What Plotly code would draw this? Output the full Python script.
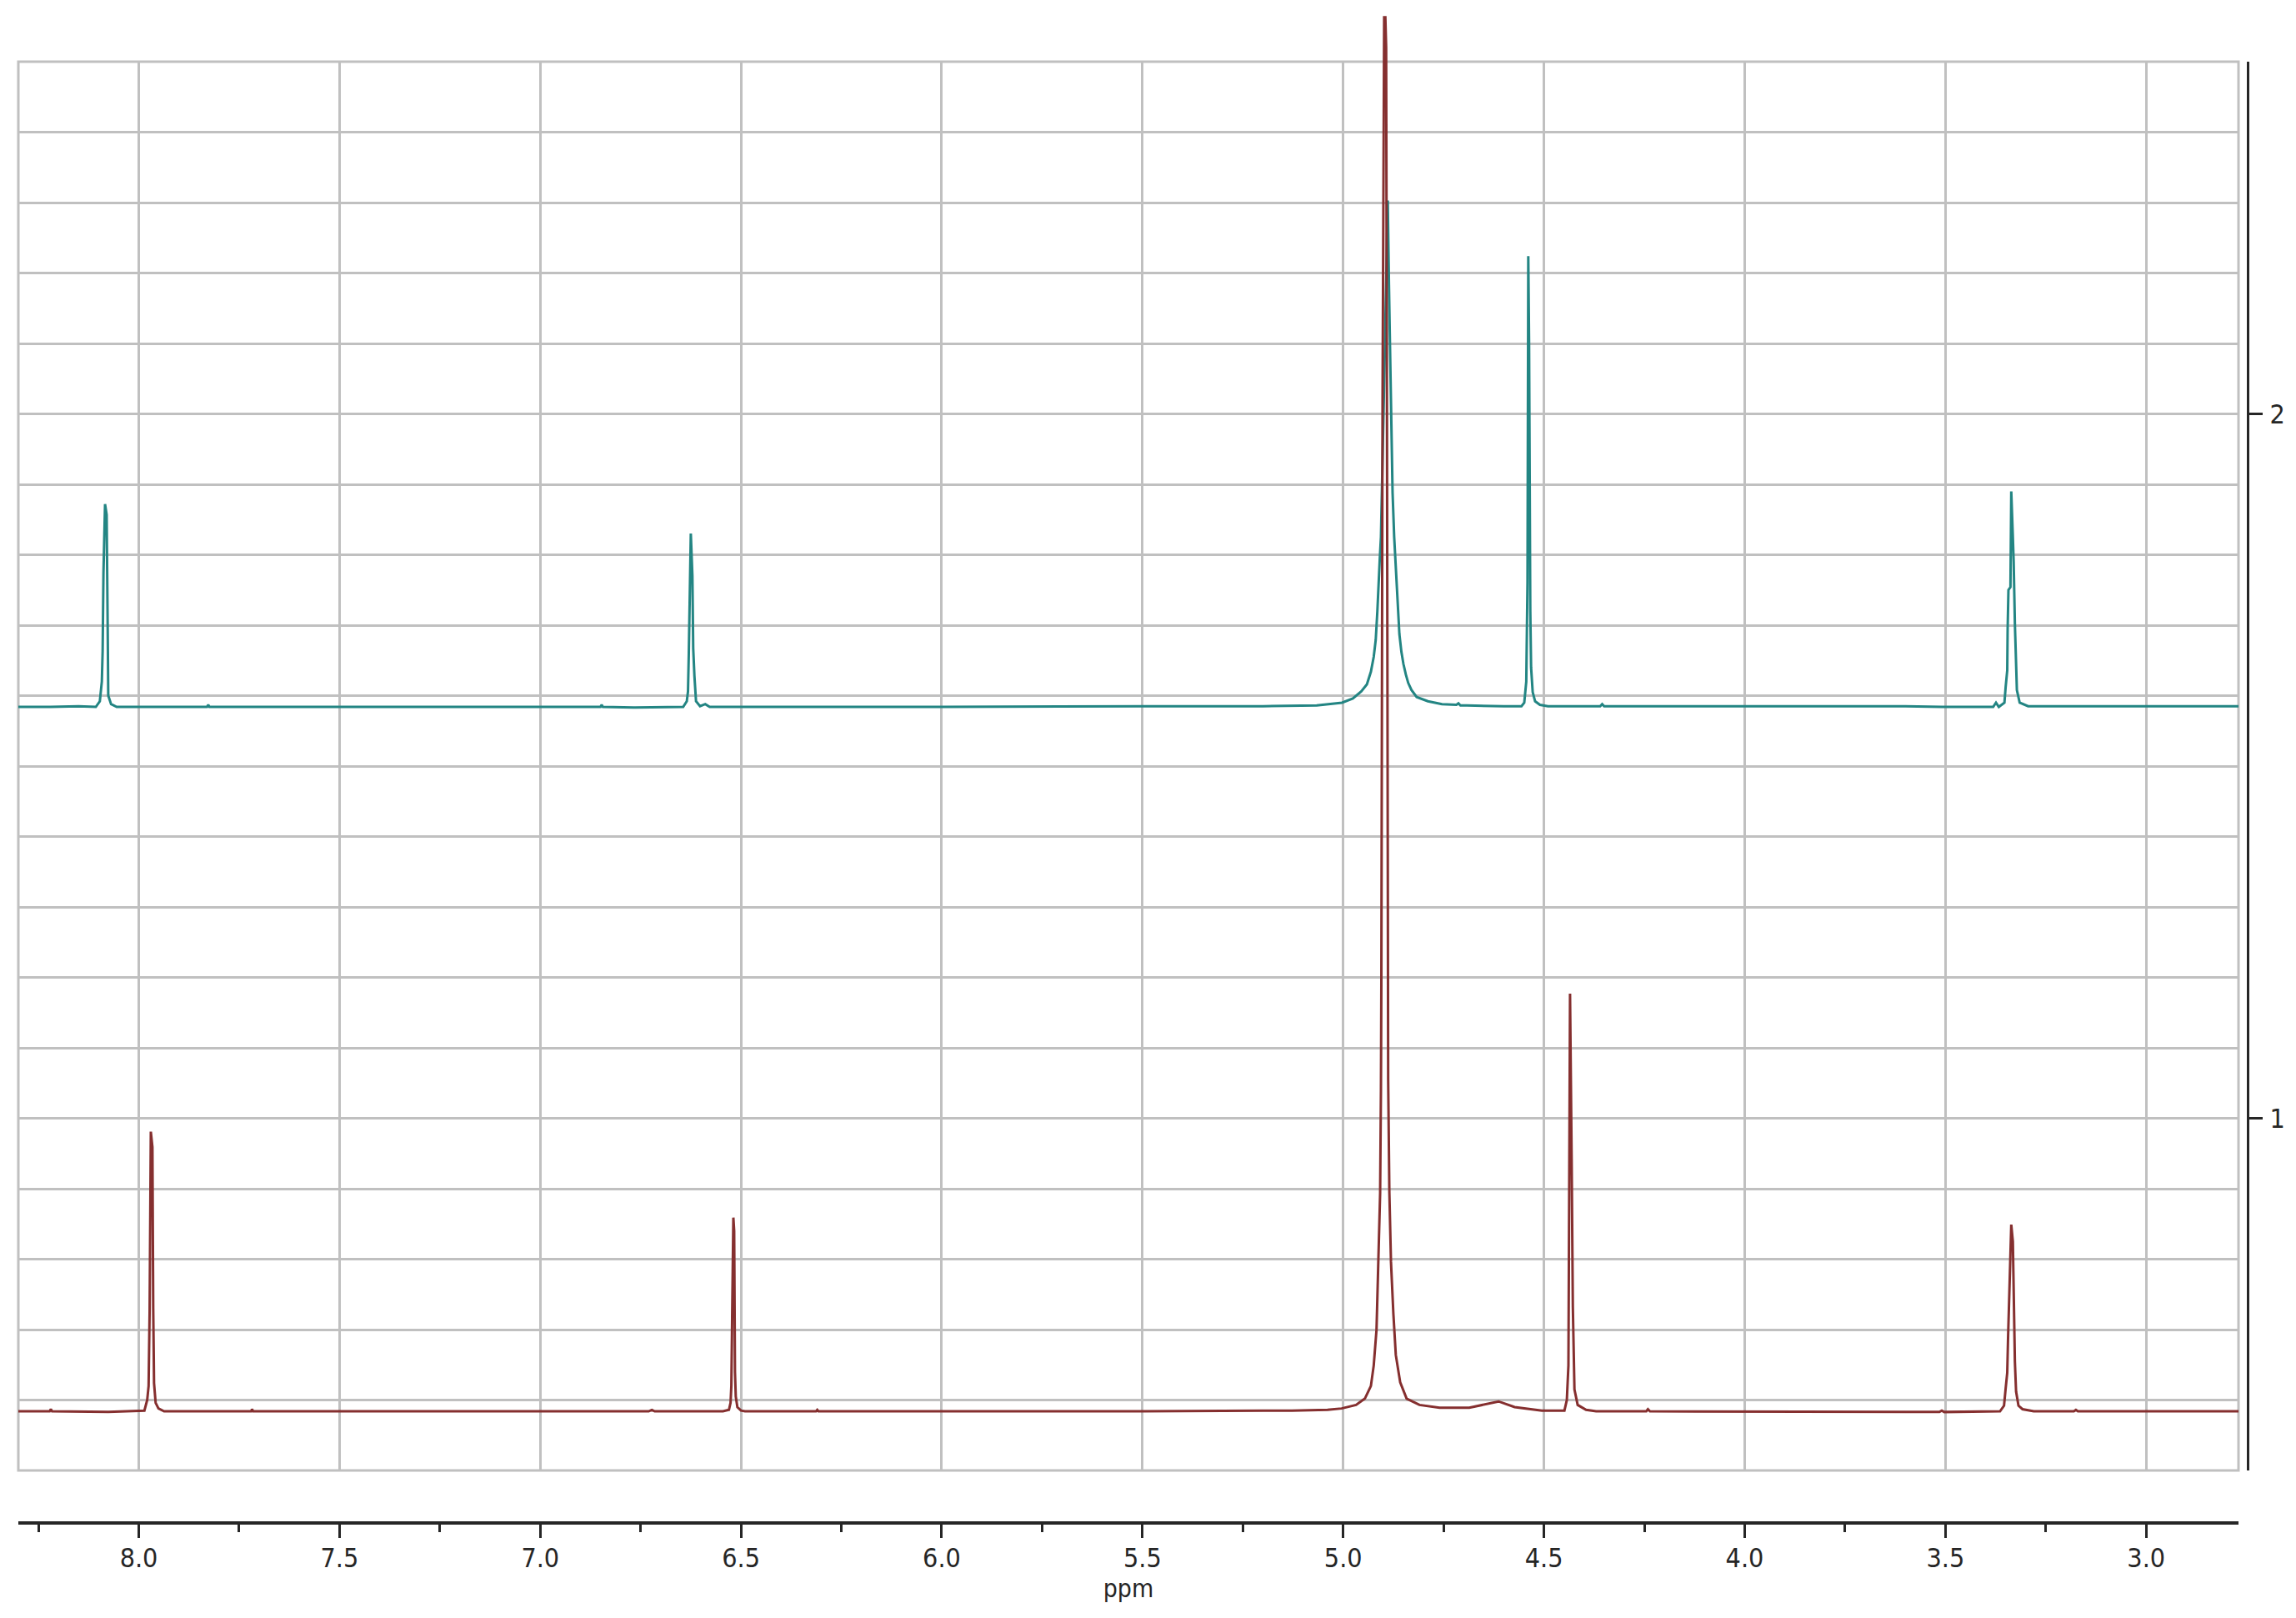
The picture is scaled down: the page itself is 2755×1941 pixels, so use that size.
import plotly.graph_objects as go

# upper spectrum (teal)
teal_ppm = [8.300, 8.220, 8.150, 8.107, 8.097, 8.092, 8.090, 8.088, 8.084, 8.080, 8.078, 8.077,
            8.076, 8.069, 8.055, 7.830, 7.827, 7.824, 7.200, 6.850, 6.847, 6.844, 6.768, 6.644,
            6.635, 6.632, 6.630, 6.627, 6.625, 6.621, 6.619, 6.616, 6.612, 6.602, 6.589, 6.578,
            6.000, 5.500, 5.200, 5.066, 5.003, 4.976, 4.955, 4.941, 4.931, 4.924, 4.919, 4.915,
            4.912, 4.909, 4.906, 4.904, 4.903, 4.896, 4.889, 4.887, 4.886, 4.884, 4.882, 4.880,
            4.877, 4.873, 4.868, 4.864, 4.860, 4.855, 4.850, 4.844, 4.838, 4.830, 4.817, 4.789,
            4.754, 4.718, 4.713, 4.708, 4.692, 4.600, 4.556, 4.549, 4.544, 4.541, 4.539, 4.537,
            4.536, 4.534, 4.532, 4.528, 4.522, 4.510, 4.490, 4.360, 4.355, 4.350, 3.600, 3.509,
            3.381, 3.374, 3.367, 3.353, 3.350, 3.346, 3.345, 3.343, 3.338, 3.336, 3.332, 3.330,
            3.327, 3.325, 3.322, 3.315, 3.294, 3.000, 2.770]
teal_int = [1.584, 1.584, 1.585, 1.584, 1.592, 1.620, 1.663, 1.774, 1.872, 1.857, 1.730, 1.663,
            1.600, 1.588, 1.584, 1.584, 1.587, 1.584, 1.584, 1.584, 1.587, 1.584, 1.583, 1.584,
            1.592, 1.606, 1.660, 1.770, 1.830, 1.770, 1.667, 1.628, 1.592, 1.585, 1.588, 1.584,
            1.584, 1.585, 1.585, 1.586, 1.590, 1.596, 1.606, 1.616, 1.634, 1.655, 1.679, 1.719,
            1.766, 1.793, 1.825, 1.876, 1.908, 2.100, 2.303, 2.247, 2.183, 2.115, 2.038, 1.959,
            1.888, 1.825, 1.766, 1.719, 1.687, 1.662, 1.645, 1.630, 1.618, 1.608, 1.598, 1.592,
            1.588, 1.587, 1.589, 1.586, 1.586, 1.585, 1.585, 1.590, 1.620, 1.760, 2.224, 2.100,
            1.900, 1.720, 1.640, 1.605, 1.592, 1.587, 1.585, 1.585, 1.588, 1.585, 1.585, 1.584,
            1.584, 1.590, 1.584, 1.590, 1.612, 1.636, 1.695, 1.750, 1.754, 1.890, 1.825, 1.790,
            1.703, 1.655, 1.608, 1.590, 1.585, 1.585, 1.585]

# lower spectrum (maroon)
maroon_ppm = [8.300, 8.222, 8.219, 8.216, 8.076, 8.007, 7.986, 7.979, 7.9755, 7.973, 7.972, 7.970,
              7.966, 7.965, 7.964, 7.962, 7.958, 7.951, 7.937, 7.720, 7.718, 7.715, 6.730, 6.722,
              6.715, 6.545, 6.530, 6.526, 6.524, 6.522, 6.521, 6.519, 6.517, 6.516, 6.515, 6.513,
              6.509, 6.500, 6.490, 6.313, 6.310, 6.307, 5.500, 5.200, 5.128, 5.039, 5.004, 4.968,
              4.946, 4.931, 4.924, 4.917, 4.912, 4.908, 4.906, 4.905, 4.902, 4.898, 4.895, 4.893,
              4.891, 4.889, 4.888, 4.885, 4.881, 4.875, 4.869, 4.858, 4.842, 4.810, 4.760, 4.686,
              4.613, 4.573, 4.505, 4.449, 4.443, 4.439, 4.437, 4.435, 4.431, 4.428, 4.424, 4.416,
              4.395, 4.370, 4.245, 4.241, 4.236, 3.571, 3.515, 3.509, 3.503, 3.364, 3.354, 3.350,
              3.346, 3.344, 3.341, 3.339, 3.336, 3.332, 3.330, 3.329, 3.327, 3.324, 3.318, 3.308,
              3.280, 3.180, 3.175, 3.170, 2.770]
maroon_int = [0.584, 0.584, 0.587, 0.584, 0.583, 0.584, 0.585, 0.600, 0.620, 0.726, 0.841, 0.981,
              0.959, 0.785, 0.730, 0.624, 0.596, 0.588, 0.584, 0.584, 0.587, 0.584, 0.584, 0.586,
              0.584, 0.584, 0.586, 0.596, 0.620, 0.720, 0.800, 0.859, 0.840, 0.720, 0.640, 0.605,
              0.590, 0.585, 0.584, 0.584, 0.586, 0.584, 0.584, 0.585, 0.585, 0.586, 0.588, 0.593,
              0.602, 0.620, 0.649, 0.700, 0.796, 0.894, 1.041, 1.188, 2.020, 2.563, 2.563, 2.520,
              2.000, 1.188, 1.056, 0.894, 0.796, 0.722, 0.664, 0.625, 0.602, 0.593, 0.589, 0.589,
              0.598, 0.590, 0.585, 0.585, 0.600, 0.649, 0.894, 1.177, 0.943, 0.732, 0.615, 0.593,
              0.586, 0.584, 0.584, 0.587, 0.584, 0.583, 0.583, 0.585, 0.583, 0.584, 0.592, 0.616,
              0.639, 0.687, 0.750, 0.801, 0.849, 0.825, 0.750, 0.699, 0.655, 0.612, 0.592, 0.587,
              0.584, 0.584, 0.586, 0.584, 0.584]

x_range = [8.300, 2.770]
y_range = [0.5, 2.5]
y_ticks = [1, 2]

TEAL = "#238583"
MAROON = "#852f2f"
GRID = "#c0c0c0"
INK = "#262626"
FONT = "DejaVu Sans Condensed, Liberation Sans, sans-serif"

# plot area in paper coords
x_dom = [22 / 2755, 2686 / 2755]
y_dom = [1 - 1764 / 1941, 1 - 74 / 1941]
# the spectra live on an overlay with the same scale but room above the frame
px_per_unit = (1764 - 74) / (y_range[1] - y_range[0])
y2_top = y_range[0] + 1764 / px_per_unit

fig = go.Figure()
fig.add_trace(go.Scatter(x=[], y=[], xaxis="x", yaxis="y", showlegend=False))
fig.add_trace(go.Scatter(x=teal_ppm, y=teal_int, mode="lines", xaxis="x2", yaxis="y2",
                         line=dict(color=TEAL, width=3), showlegend=False))
fig.add_trace(go.Scatter(x=maroon_ppm, y=maroon_int, mode="lines", xaxis="x2", yaxis="y2",
                         line=dict(color=MAROON, width=3), showlegend=False))

fig.update_layout(
    width=2755, height=1941,
    margin=dict(l=0, r=0, t=0, b=0),
    paper_bgcolor="white", plot_bgcolor="rgba(0,0,0,0)",
    font=dict(family=FONT, size=32, color=INK),
    showlegend=False,
    xaxis=dict(
        domain=x_dom, range=x_range, anchor="free", position=1 - 1827 / 1941,
        showline=True, linecolor=INK, linewidth=4,
        ticks="outside", ticklen=16, tickwidth=3, tickcolor=INK,
        dtick=0.5, tick0=0, tickformat=".1f", ticklabelstandoff=-3,
        showgrid=True, gridcolor=GRID, gridwidth=3, zeroline=False,
        minor=dict(dtick=0.25, tick0=0, ticks="outside", ticklen=9, tickwidth=3,
                   tickcolor=INK, showgrid=False),
        title=dict(text="ppm", font=dict(size=30), standoff=4),
        automargin=False,
    ),
    yaxis=dict(
        domain=y_dom, range=y_range, anchor="free", position=2697 / 2755, side="right",
        showline=True, linecolor=INK, linewidth=3,
        ticks="outside", ticklen=16, tickwidth=3, tickcolor=INK,
        tickvals=y_ticks, ticklabelstandoff=2,
        showgrid=True, gridcolor=GRID, gridwidth=3, zeroline=False,
        minor=dict(dtick=0.1, tick0=0, showgrid=True, gridcolor=GRID, gridwidth=3, ticks=""),
        automargin=False,
    ),
    xaxis2=dict(domain=x_dom, range=x_range, anchor="y2", visible=False, showgrid=False),
    yaxis2=dict(domain=[y_dom[0], 1.0], range=[y_range[0], y2_top], anchor="x2",
                visible=False, showgrid=False),
    shapes=[dict(type="rect", xref="paper", yref="paper",
                 x0=x_dom[0], x1=x_dom[1], y0=y_dom[0], y1=y_dom[1],
                 line=dict(color=GRID, width=3), layer="below")],
)

fig.write_html("out.html", config={"displayModeBar": False},
               post_script="document.body.style.margin='0px';")
